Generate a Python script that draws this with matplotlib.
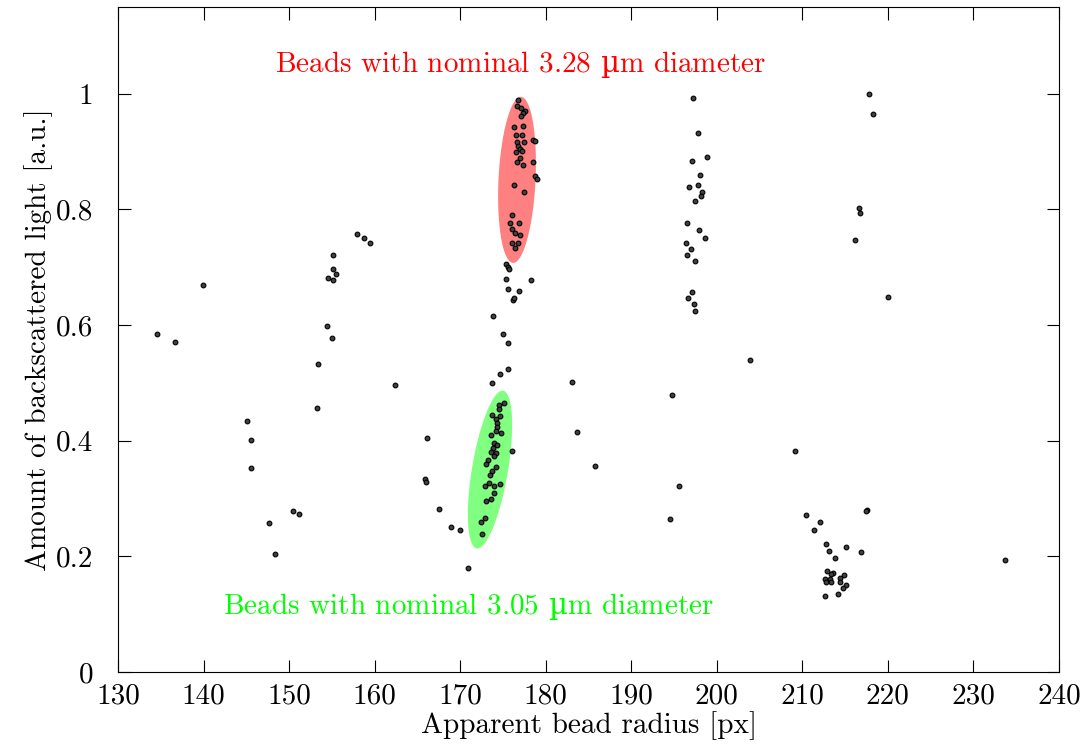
import numpy as np
import matplotlib
matplotlib.use("Agg")
import matplotlib.pyplot as plt

plt.rcParams["font.family"] = ["cmr10", "DejaVu Serif"]
plt.rcParams["mathtext.fontset"] = "custom"
plt.rcParams["mathtext.rm"] = "DejaVu Serif"
plt.rcParams["axes.formatter.use_mathtext"] = False

# bead measurements: apparent radius [px] and backscattered light [a.u.]
radius = [
    134.5, 136.6, 139.9, 145.1, 145.5, 145.5, 147.7, 148.4, 150.4, 151.2,
    157.9, 158.8, 159.5, 155.1, 155.1, 155.5, 154.6, 155.1, 154.4, 155.0,
    153.4, 162.4, 153.2,
    176.2, 173.8, 175.0, 175.6, 175.6, 174.7, 173.7, 176.0, 170.9, 170.0,
    166.1, 165.9, 166.0, 167.5, 168.9,
    175.1, 174.5, 174.5, 173.7, 174.6, 174.2, 174.3, 174.3, 174.2, 174.8,
    173.6, 174.0, 174.3, 173.8, 174.2, 173.6, 173.9, 173.2, 173.0, 174.2,
    173.7, 173.5, 173.4, 172.9, 173.9, 174.7, 173.9, 173.6, 173.0, 172.9,
    172.4, 172.6,
    176.8, 176.6, 177.1, 177.6, 177.3, 177.1, 176.3, 177.3, 176.5, 177.2,
    176.6, 177.5, 178.5, 178.8, 176.8, 177.0, 176.5, 177.2, 177.0, 176.6,
    177.3, 178.5, 178.8, 179.0, 176.3, 177.5, 176.1, 175.8, 176.9, 176.1,
    176.4, 177.0, 176.1, 176.7, 176.4, 175.3, 175.6, 175.7, 175.3, 178.3,
    175.6, 176.9, 176.3,
    197.2, 197.8, 198.9, 197.1, 198.0, 197.8, 196.8, 198.3, 198.1, 197.5,
    196.5, 197.9, 198.6, 196.4, 197.0, 196.5, 197.5, 197.1, 196.6, 197.3,
    197.5,
    203.9, 183.1, 194.8, 183.6, 185.8, 195.6, 194.5,
    217.5, 217.4, 210.4, 212.0, 211.4, 212.8, 215.1, 216.8, 213.1, 213.8,
    212.9, 213.6, 213.3, 212.6, 213.2, 214.9, 214.4, 212.8, 213.4, 214.4,
    215.1, 214.7, 212.7, 214.2,
    217.8, 218.3, 216.6, 216.7, 216.2, 220.0, 209.1, 233.7,
]
light = [
    0.585, 0.571, 0.670, 0.434, 0.401, 0.353, 0.258, 0.204, 0.279, 0.274,
    0.758, 0.750, 0.742, 0.721, 0.697, 0.689, 0.681, 0.678, 0.599, 0.577,
    0.532, 0.497, 0.457,
    0.644, 0.615, 0.585, 0.569, 0.524, 0.516, 0.500, 0.383, 0.180, 0.246,
    0.404, 0.333, 0.328, 0.281, 0.250,
    0.466, 0.462, 0.454, 0.445, 0.442, 0.437, 0.430, 0.423, 0.416, 0.414,
    0.410, 0.396, 0.392, 0.387, 0.378, 0.381, 0.373, 0.367, 0.359, 0.355,
    0.348, 0.341, 0.327, 0.322, 0.321, 0.325, 0.309, 0.300, 0.295, 0.266,
    0.260, 0.239,
    0.990, 0.979, 0.975, 0.971, 0.967, 0.961, 0.942, 0.945, 0.929, 0.929,
    0.917, 0.916, 0.920, 0.919, 0.910, 0.904, 0.900, 0.901, 0.889, 0.882,
    0.876, 0.882, 0.858, 0.853, 0.843, 0.830, 0.790, 0.776, 0.776, 0.766,
    0.760, 0.755, 0.742, 0.742, 0.734, 0.706, 0.701, 0.697, 0.680, 0.678,
    0.662, 0.659, 0.646,
    0.992, 0.932, 0.891, 0.883, 0.859, 0.843, 0.838, 0.830, 0.824, 0.814,
    0.777, 0.764, 0.750, 0.742, 0.731, 0.721, 0.710, 0.657, 0.646, 0.636,
    0.625,
    0.540, 0.502, 0.479, 0.415, 0.356, 0.322, 0.265,
    0.280, 0.278, 0.271, 0.260, 0.246, 0.221, 0.217, 0.207, 0.210, 0.197,
    0.175, 0.171, 0.170, 0.161, 0.160, 0.168, 0.162, 0.156, 0.156, 0.156,
    0.150, 0.145, 0.131, 0.134,
    1.000, 0.965, 0.803, 0.793, 0.747, 0.649, 0.382, 0.194,
]

# highlighted groups: centre, half major axis, half minor axis (data units)
red_group = dict(c=(176.64, 0.851), major=(0.47, 0.1436), minor=(2.16, -0.0015))
green_group = dict(c=(173.48, 0.350), major=(1.55, 0.1363), minor=(2.07, -0.0052))

red_label = r"Beads with nominal 3.28 $\mathrm{µ}$m diameter"
green_label = r"Beads with nominal 3.05 $\mathrm{µ}$m diameter"

x_ticks = [130, 140, 150, 160, 170, 180, 190, 200, 210, 220, 230, 240]
x_tick_labels = [str(v) for v in x_ticks]
y_ticks = [0, 0.2, 0.4, 0.6, 0.8, 1.0]
y_tick_labels = ["0", "0.2", "0.4", "0.6", "0.8", "1"]


def ellipse_xy(g, n=200):
    t = np.linspace(0, 2 * np.pi, n)
    cx, cy = g["c"]
    ex = cx + g["major"][0] * np.cos(t) + g["minor"][0] * np.sin(t)
    ey = cy + g["major"][1] * np.cos(t) + g["minor"][1] * np.sin(t)
    return ex, ey


fig = plt.figure(figsize=(10.92, 7.44), dpi=100)
ax = fig.add_axes([0.1081, 0.0968, 0.8617, 0.8938])

ex, ey = ellipse_xy(red_group)
ax.fill(ex, ey, color="#ff8080", lw=0, zorder=1)
ex, ey = ellipse_xy(green_group)
ax.fill(ex, ey, color="#80ff80", lw=0, zorder=1)

ax.plot(radius, light, "o", ms=3.4, mfc="#404040", mec="black", mew=0.8, zorder=3)

ax.text(177.0, 1.050, red_label, color="#ff0000", fontsize=21, ha="center", va="center")
ax.text(171.0, 0.1125, green_label, color="#00ff00", fontsize=21, ha="center", va="center")

ax.set_xlim(130, 240)
ax.set_ylim(0, 1.15)
ax.set_xticks(x_ticks)
ax.set_xticklabels(x_tick_labels)
ax.set_yticks(y_ticks)
ax.set_yticklabels(y_tick_labels)
ax.tick_params(direction="in", length=9, width=0.8, top=True, right=True,
               labelsize=21)
ax.tick_params(axis="x", pad=8)
ax.tick_params(axis="y", pad=18)
ax.set_xlabel("Apparent bead radius [px]", fontsize=21, labelpad=1)
ax.set_ylabel("Amount of backscattered light [a.u.]", fontsize=21, labelpad=2)
for s in ax.spines.values():
    s.set_linewidth(0.8)

fig.savefig("out.png", dpi=100)
